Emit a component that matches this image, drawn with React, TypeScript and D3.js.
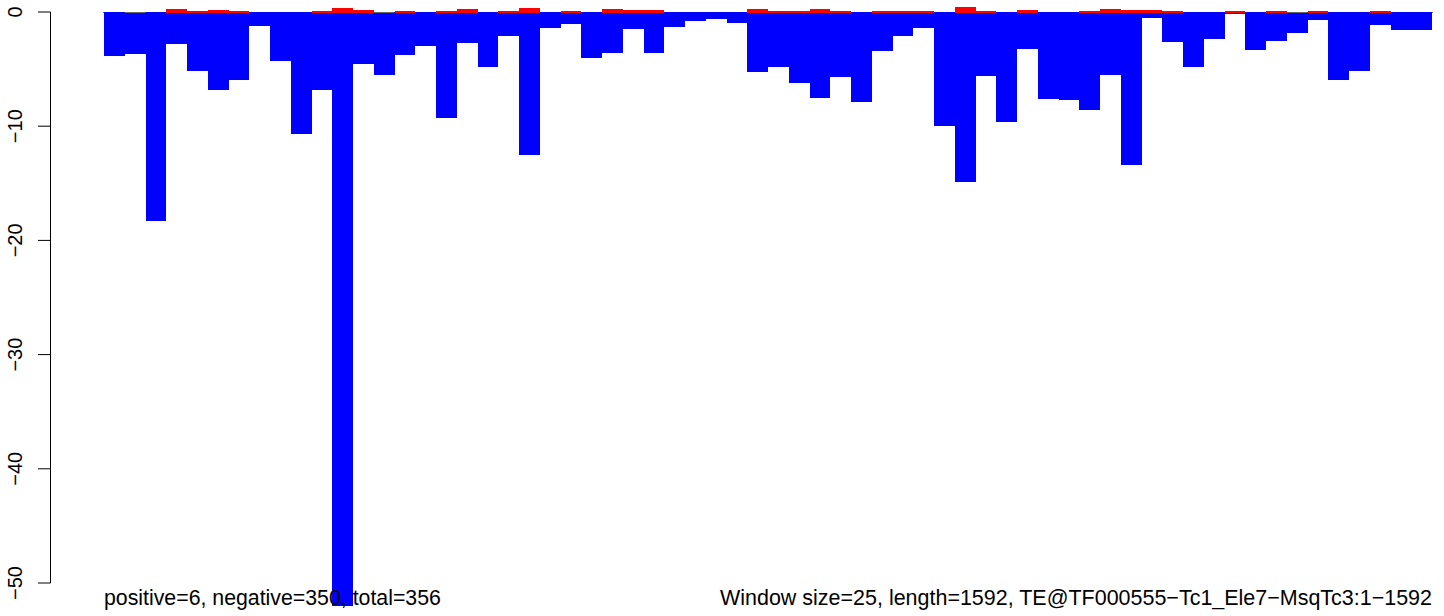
import React from "react";
import * as d3 from "d3";

// Window-based score (window size 25, length 1592 → 64 windows)
const windowSize = 25;
const negativeValues: number[] = [
  -3.83, -3.65, -18.27, -2.77, -5.14, -6.8, -5.93, -1.2, -4.26, -10.65,
  -6.8, -52.0, -4.52, -5.49, -3.74, -2.95, -9.31, -2.69, -4.79, -2.07,
  -12.49, -1.37, -1.02, -4.0, -3.56, -1.46, -3.56, -1.28, -0.76, -0.58,
  -0.93, -5.23, -4.79, -6.19, -7.5, -5.66, -7.85, -3.39, -2.07, -1.37,
  -9.95, -14.86, -5.57, -9.6, -3.21, -7.59, -7.68, -8.55, -5.49, -13.37,
  -0.5, -2.6, -4.79, -2.34, -0.15, -3.3, -2.51, -1.81, -0.67, -5.93,
  -5.14, -1.11, -1.55, -1.55,
];
const positiveValues: number[] = [
  0, 0, 0, 0.26, 0.09, 0.17, 0.09, 0, 0, 0,
  0.09, 0.35, 0.17, 0, 0.09, 0, 0.09, 0.26, 0, 0.09,
  0.35, 0, 0.09, 0, 0.26, 0.17, 0.17, 0, 0, 0,
  0, 0.26, 0.09, 0.09, 0.26, 0.09, 0, 0.09, 0.09, 0.09,
  0, 0.44, 0.09, 0, 0.17, 0, 0, 0.09, 0.26, 0.17,
  0.17, 0.09, 0, 0, 0.09, 0, 0.09, 0, 0.09, 0,
  0, 0.09, 0, 0,
];
// windows where the grey zero line shows through
const zeroLineWindows: number[] = [1, 13, 57];
const yTicks: number[] = [0, -10, -20, -30, -40, -50];
const leftNote = "positive=6, negative=350, total=356";
const rightNote = "Window size=25, length=1592, TE@TF000555\u2212Tc1_Ele7\u2212MsqTc3:1\u22121592";

const W = 1444;
const H = 616;
const FONT = "'Liberation Sans', Arial, Helvetica, sans-serif";

export default function App() {
  const n = negativeValues.length;
  const x = d3.scaleLinear().domain([0, n * windowSize]).range([104, 1432]);
  const y = d3.scaleLinear().domain([0, -50]).range([12, 583]);
  const y0 = y(0);
  const fmt = (v: number) => (v < 0 ? "\u2212" + Math.abs(v) : String(v));

  return (
    <svg
      width={W}
      height={H}
      style={{ position: "absolute", left: 0, top: 0, background: "#fff" }}
    >
      {/* zero line */}
      <line x1={x(0) - 1} x2={x(n * windowSize) + 1} y1={y0 + 0.5} y2={y0 + 0.5} stroke="#666" strokeWidth={1} />
      {/* negative bars */}
      {negativeValues.map((v, i) => (
        <rect
          key={"n" + i}
          x={x(i * windowSize)}
          y={y0}
          width={x((i + 1) * windowSize) - x(i * windowSize)}
          height={y(v) - y0}
          fill="#0000ff"
          shapeRendering="crispEdges"
        />
      ))}
      {zeroLineWindows.map((i) => (
        <line
          key={"z" + i}
          x1={x(i * windowSize)}
          x2={x((i + 1) * windowSize)}
          y1={y0 + 0.5}
          y2={y0 + 0.5}
          stroke="#666"
          strokeWidth={1}
        />
      ))}
      {/* positive bars */}
      {positiveValues.map((v, i) =>
        v > 0 ? (
          <rect
            key={"p" + i}
            x={x(i * windowSize)}
            y={y(v)}
            width={x((i + 1) * windowSize) - x(i * windowSize)}
            height={y0 - y(v) + 1}
            fill="#ff0000"
            shapeRendering="crispEdges"
          />
        ) : null
      )}
      {/* y axis */}
      <line x1={50.5} x2={50.5} y1={y(0)} y2={y(-50)} stroke="#000" strokeWidth={1} />
      {yTicks.map((t) => (
        <g key={"t" + t}>
          <line x1={38} x2={50.5} y1={y(t)} y2={y(t)} stroke="#000" strokeWidth={1} />
          <text
            transform={`translate(21.5,${y(t)}) rotate(-90)`}
            textAnchor="middle"
            fontFamily={FONT}
            fontSize={20}
            fill="#000"
          >
            {fmt(t)}
          </text>
        </g>
      ))}
      <text x={x(0)} y={605} fontFamily={FONT} fontSize={21.3} fill="#000">
        {leftNote}
      </text>
      <text
        x={x(n * windowSize)}
        y={605}
        textAnchor="end"
        fontFamily={FONT}
        fontSize={21.3}
        textLength={712}
        lengthAdjust="spacingAndGlyphs"
        fill="#000"
      >
        {rightNote}
      </text>
    </svg>
  );
}
